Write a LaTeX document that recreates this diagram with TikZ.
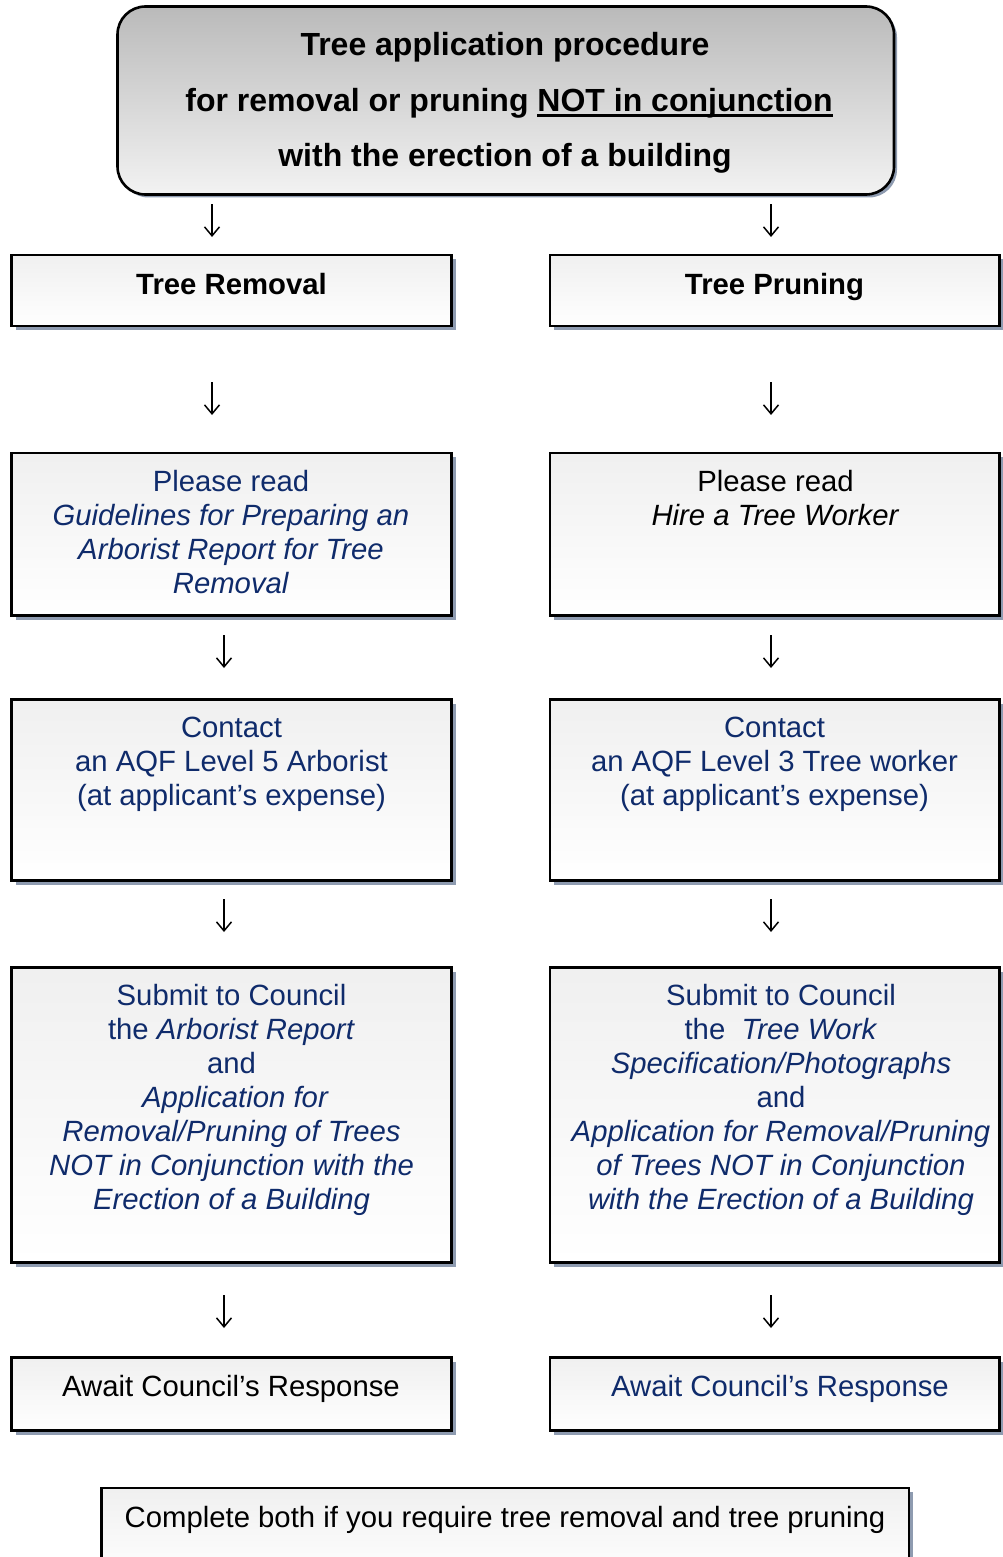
\documentclass[tikz,border=0pt]{standalone}
\usepackage{fontspec}
\setmainfont{Liberation Sans}
\usetikzlibrary{shadows,arrows.meta}
\definecolor{navy}{HTML}{0F2B6B}
\definecolor{shadowc}{HTML}{8E9BB0}
\newcommand\ulin[1]{\setbox0\hbox{#1}\rlap{\rule[-5.5pt]{\wd0}{2.8pt}}\box0}
\tikzset{
  flowbox/.style={draw=black, line width=2.6pt, top color=black!6, bottom color=white,
    drop shadow={shadow xshift=4pt, shadow yshift=-4pt, fill=shadowc, opacity=1},
    inner sep=0pt, rectangle},
  titlebox/.style={draw=black, line width=2.6pt, rounded corners=28pt, top color=black!27, bottom color=black!5,
    drop shadow={shadow xshift=3pt, shadow yshift=-3pt, fill=shadowc, opacity=1},
    inner sep=0pt, rectangle},
  boxtext/.style={align=center, inner sep=0pt, anchor=north, font=\fontsize{29.3}{34}\selectfont},
  arr/.style={line width=1.5pt, -{Straight Barb[length=9pt,width=15pt,line width=1.5pt]}}
}
\begin{document}
\begin{tikzpicture}[x=1pt,y=-1pt]
\useasboundingbox (0,0) rectangle (1002,1557);

% title
\node[titlebox, minimum width=776.5pt, minimum height=188pt] (title) at (505.75,100.5) {};
\node[align=center, inner sep=0pt, anchor=north, font=\fontsize{32}{55.5}\selectfont\bfseries] (titletxt) at (505,32.5)
  {Tree application procedure\\ \hspace*{8pt}for removal or pruning \ulin{NOT in conjunction}\\ with the erection of a building};

% row 1
\node[flowbox, minimum width=440pt, minimum height=71pt] (r1L) at (231.5,290.5) {};
\node[flowbox, minimum width=449.5pt, minimum height=71pt] (r1R) at (774.75,290.5) {};
\node[boxtext, font=\fontsize{29.3}{34}\selectfont\bfseries] (r1Lt) at (231.5,273.5) {Tree Removal};
\node[boxtext, font=\fontsize{29.3}{34}\selectfont\bfseries] (r1Rt) at (774.5,273.5) {Tree Pruning};

% row 2
\node[flowbox, minimum width=440pt, minimum height=162.5pt] (r2L) at (231.5,534.25) {};
\node[flowbox, minimum width=449.5pt, minimum height=162.5pt] (r2R) at (774.75,534.25) {};
\node[boxtext, text=navy] (r2Lt) at (231,470.5) {Please read\\ \textit{Guidelines for Preparing an}\\ \textit{Arborist Report for Tree}\\ \textit{Removal}};
\node[boxtext] (r2Rt) at (775.5,470.5) {Please read\\ \textit{Hire a Tree Worker}};

% row 3
\node[flowbox, minimum width=440pt, minimum height=181pt] (r3L) at (231.5,790) {};
\node[flowbox, minimum width=449.5pt, minimum height=181pt] (r3R) at (774.75,790) {};
\node[boxtext, text=navy] (r3Lt) at (231.5,716.5) {Contact\\ an AQF Level 5 Arborist\\ (at applicant’s expense)};
\node[boxtext, text=navy] (r3Rt) at (774.5,716.5) {Contact\\ an AQF Level 3 Tree worker\\ (at applicant’s expense)};

% row 4
\node[flowbox, minimum width=440pt, minimum height=295pt] (r4L) at (231.5,1115) {};
\node[flowbox, minimum width=449.5pt, minimum height=295pt] (r4R) at (774.75,1115) {};
\node[boxtext, text=navy] (r4Lt) at (231.5,984.5) {Submit to Council\\ the \textit{Arborist Report}\\ and\\ \hspace{8pt}\textit{Application for}\\ \textit{Removal/Pruning of Trees}\\ \textit{NOT in Conjunction with the}\\ \textit{Erection of a Building}};
\node[boxtext, text=navy] (r4Rt) at (781,984.5) {Submit to Council\\ the\ \ \textit{Tree Work}\\ \textit{Specification/Photographs}\\ and\\ \textit{Application for Removal/Pruning}\\ \textit{of Trees NOT in Conjunction}\\ \textit{with the Erection of a Building}};

% row 5
\node[flowbox, minimum width=440pt, minimum height=73pt] (r5L) at (231.5,1394) {};
\node[flowbox, minimum width=449.5pt, minimum height=73pt] (r5R) at (774.75,1394) {};
\node[boxtext] (r5Lt) at (231,1375.5) {Await Council’s Response};
\node[boxtext, text=navy] (r5Rt) at (780,1375.5) {Await Council’s Response};

% bottom note
\node[flowbox, line width=2.2pt, minimum width=807.5pt, minimum height=92pt] (note) at (505.25,1534) {};
\node[boxtext] (notet) at (505,1506.5) {Complete both if you require tree removal and tree pruning};

% arrows
\coordinate (a1Ls) at (212,204); \coordinate (a1Le) at (212,237);
\coordinate (a1Rs) at (771,204); \coordinate (a1Re) at (771,237);
\coordinate (a2Ls) at (212,382); \coordinate (a2Le) at (212,415);
\coordinate (a2Rs) at (771,382); \coordinate (a2Re) at (771,415);
\coordinate (a3Ls) at (224,635); \coordinate (a3Le) at (224,668);
\coordinate (a3Rs) at (771,635); \coordinate (a3Re) at (771,668);
\coordinate (a4Ls) at (224,899); \coordinate (a4Le) at (224,932);
\coordinate (a4Rs) at (771,899); \coordinate (a4Re) at (771,932);
\coordinate (a5Ls) at (224,1295); \coordinate (a5Le) at (224,1328);
\coordinate (a5Rs) at (771,1295); \coordinate (a5Re) at (771,1328);
\foreach \a in {a1L,a1R,a2L,a2R,a3L,a3R,a4L,a4R,a5L,a5R}
  \draw[arr] (\a s) -- (\a e);
\end{tikzpicture}
\end{document}
